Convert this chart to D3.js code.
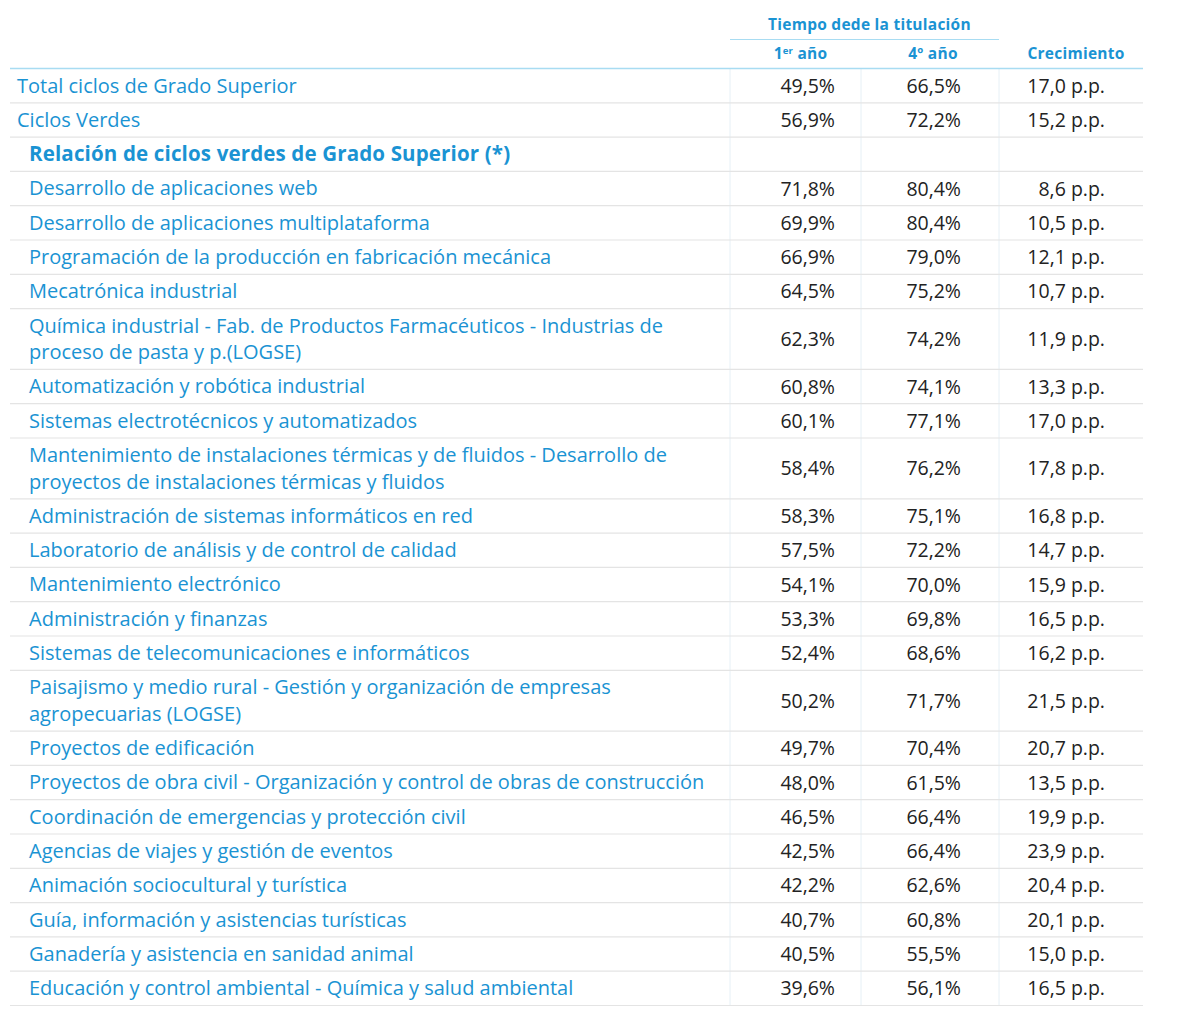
<!DOCTYPE html>
<html>
<head>
<meta charset="utf-8">
<script src="https://cdn.jsdelivr.net/npm/d3@7"></script>
<style>
  body { margin: 0; background: #fff; }
  svg text { font-family: "Open Sans", sans-serif; }
</style>
</head>
<body>
<svg id="chart"></svg>
<script>
// row labels, each label split into its printed lines
const labels = [
  ["Total ciclos de Grado Superior"],
  ["Ciclos Verdes"],
  ["Relación de ciclos verdes de Grado Superior (*)"],
  ["Desarrollo de aplicaciones web"],
  ["Desarrollo de aplicaciones multiplataforma"],
  ["Programación de la producción en fabricación mecánica"],
  ["Mecatrónica industrial"],
  ["Química industrial - Fab. de Productos Farmacéuticos - Industrias de", "proceso de pasta y p.(LOGSE)"],
  ["Automatización y robótica industrial"],
  ["Sistemas electrotécnicos y automatizados"],
  ["Mantenimiento de instalaciones térmicas y de fluidos - Desarrollo de", "proyectos de instalaciones térmicas y fluidos"],
  ["Administración de sistemas informáticos en red"],
  ["Laboratorio de análisis y de control de calidad"],
  ["Mantenimiento electrónico"],
  ["Administración y finanzas"],
  ["Sistemas de telecomunicaciones e informáticos"],
  ["Paisajismo y medio rural - Gestión y organización de empresas", "agropecuarias (LOGSE)"],
  ["Proyectos de edificación"],
  ["Proyectos de obra civil - Organización y control de obras de construcción"],
  ["Coordinación de emergencias y protección civil"],
  ["Agencias de viajes y gestión de eventos"],
  ["Animación sociocultural y turística"],
  ["Guía, información y asistencias turísticas"],
  ["Ganadería y asistencia en sanidad animal"],
  ["Educación y control ambiental - Química y salud ambiental"]
];
// 0 = total rows, 1 = section heading, 2 = cycle rows
const rowKind = [0, 0, 1, 2, 2, 2, 2, 2, 2, 2, 2, 2, 2, 2, 2, 2, 2, 2, 2, 2, 2, 2, 2, 2, 2];

const firstYear = [49.5, 56.9, null, 71.8, 69.9, 66.9, 64.5, 62.3, 60.8, 60.1, 58.4, 58.3, 57.5, 54.1, 53.3, 52.4, 50.2, 49.7, 48.0, 46.5, 42.5, 42.2, 40.7, 40.5, 39.6];
const fourthYear = [66.5, 72.2, null, 80.4, 80.4, 79.0, 75.2, 74.2, 74.1, 77.1, 76.2, 75.1, 72.2, 70.0, 69.8, 68.6, 71.7, 70.4, 61.5, 66.4, 66.4, 62.6, 60.8, 55.5, 56.1];
const growth = [17.0, 15.2, null, 8.6, 10.5, 12.1, 10.7, 11.9, 13.3, 17.0, 17.8, 16.8, 14.7, 15.9, 16.5, 16.2, 21.5, 20.7, 13.5, 19.9, 23.9, 20.4, 20.1, 15.0, 16.5];

const groupHeader = "Tiempo dede la titulación";
const colHeaders = ["1", "4º año", "Crecimiento"];

const width = 1180, height = 1015;
const blue = "#1a93d3";
const fmt = v => v.toFixed(1).replace(".", ",");

const svg = d3.select("#chart").attr("width", width).attr("height", height);

const tLeft = 10, tRight = 1143, tTop = 68;
const colEdges = [730, 861, 999];       // vertical separators
const colRight = [835, 961, 1105];      // right edge of numbers
const rowH = 34.3, lineH = 26.5;

// row positions from line counts
const rowHeights = labels.map(l => rowH + (l.length - 1) * lineH);
const rowTops = [];
rowHeights.reduce((acc, h) => { rowTops.push(acc); return acc + h; }, tTop);
const tBottom = rowTops[rowTops.length - 1] + rowHeights[rowHeights.length - 1];

// header
const headStyle = sel => sel
  .attr("text-anchor", "middle").attr("fill", blue)
  .attr("font-size", 15.5).attr("font-weight", 700)
  .attr("letter-spacing", 0.25);

svg.append("text")
  .attr("x", (colEdges[0] + colEdges[2]) / 2 + 5).attr("y", 30)
  .call(headStyle)
  .text(groupHeader);
svg.append("line")
  .attr("x1", colEdges[0]).attr("x2", colEdges[2]).attr("y1", 39.5).attr("y2", 39.5)
  .attr("stroke", "#a8dcf2").attr("stroke-width", 1);

const headCenters = [(colEdges[0] + colEdges[1]) / 2 + 5, (colEdges[1] + colEdges[2]) / 2 + 3, (colEdges[2] + tRight) / 2 + 5];
const h1 = svg.append("text")
  .attr("x", headCenters[0]).attr("y", 59)
  .call(headStyle);
h1.append("tspan").text(colHeaders[0]);
h1.append("tspan").attr("dy", -5).attr("font-size", 9.5).text("er");
h1.append("tspan").attr("dy", 5).text(" año");
colHeaders.slice(1).forEach((t, i) => {
  svg.append("text")
    .attr("x", headCenters[i + 1]).attr("y", 59)
    .call(headStyle)
    .text(t);
});

// grid
const grid = svg.append("g");
grid.selectAll("line.v")
  .data(colEdges)
  .enter().append("line")
  .attr("class", "v")
  .attr("x1", d => d).attr("x2", d => d)
  .attr("y1", tTop).attr("y2", tBottom)
  .attr("stroke", "#e6f0f6").attr("stroke-width", 1);
grid.selectAll("line.h")
  .data(rowTops.slice(1).concat([tBottom]))
  .enter().append("line")
  .attr("class", "h")
  .attr("x1", tLeft).attr("x2", tRight)
  .attr("y1", d => d + 0.5).attr("y2", d => d + 0.5)
  .attr("stroke", "#e4e4e4").attr("stroke-width", 1.2);
svg.append("line")
  .attr("x1", tLeft).attr("x2", tRight).attr("y1", tTop + 0.5).attr("y2", tTop + 0.5)
  .attr("stroke", "#a8dcf2").attr("stroke-width", 1.3);

// rows
const rows = svg.append("g").selectAll("g")
  .data(labels.map((l, i) => ({ l, i })))
  .enter().append("g")
  .attr("transform", d => `translate(0,${rowTops[d.i]})`);

rows.each(function (d) {
  const g = d3.select(this);
  const kind = rowKind[d.i];
  const x0 = kind === 0 ? 17 : 29;
  const t = g.append("text")
    .attr("fill", blue)
    .attr("font-size", kind === 1 ? 20.5 : 20)
    .attr("font-weight", kind === 1 ? 700 : 400)
    .attr("letter-spacing", kind === 1 ? 0.15 : 0);
  d.l.forEach((line, k) => {
    t.append("tspan").attr("x", x0).attr("y", 24.5 + k * lineH).text(line);
  });

  if (firstYear[d.i] == null) return;
  const yMid = rowHeights[d.i] / 2 + 7.5;
  const vals = [fmt(firstYear[d.i]) + "%", fmt(fourthYear[d.i]) + "%", fmt(growth[d.i]) + " p.p."];
  vals.forEach((v, c) => {
    g.append("text")
      .attr("x", colRight[c]).attr("y", yMid)
      .attr("text-anchor", "end")
      .attr("fill", "#222")
      .attr("font-size", 19.5)
      .text(v);
  });
});
</script>
</body>
</html>
